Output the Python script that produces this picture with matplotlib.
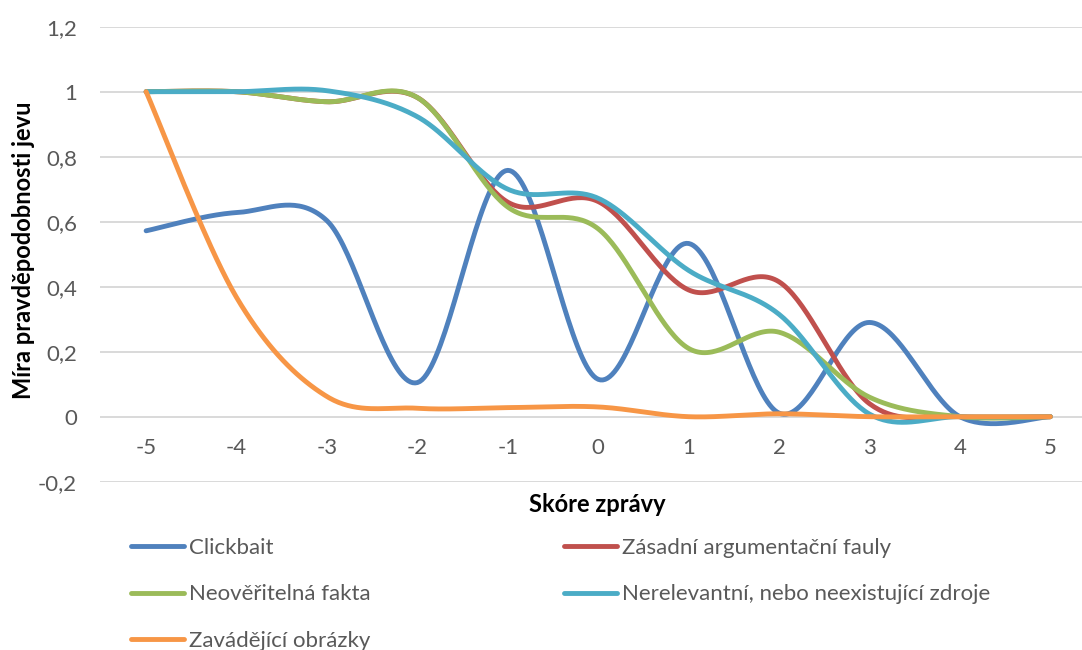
import numpy as np
import matplotlib
matplotlib.use("Agg")
import matplotlib.pyplot as plt

plt.rcParams['font.family'] = ['Lato', 'DejaVu Sans']

# ---------------- data ----------------
scores = [-5, -4, -3, -2, -1, 0, 1, 2, 3, 4, 5]
clickbait = [0.572, 0.628, 0.603, 0.105, 0.758, 0.115, 0.533, 0.011, 0.290, 0.0, 0.0]
fauly = [1.0, 1.0, 0.969, 0.982, 0.66, 0.662, 0.39, 0.415, 0.04, 0.0, 0.0]
fakta = [1.0, 1.0, 0.969, 0.982, 0.645, 0.578, 0.21, 0.26, 0.06, 0.0, 0.0]
zdroje = [1.0, 1.0, 1.003, 0.923, 0.70, 0.672, 0.45, 0.315, 0.008, 0.0, 0.0]
obrazky = [1.0, 0.367, 0.062, 0.026, 0.028, 0.030, 0.0, 0.009, 0.0, 0.0, 0.0]

series_names = ["Clickbait", "Zásadní argumentační fauly", "Neověřitelná fakta",
                "Nerelevantní, nebo neexistující zdroje", "Zavádějící obrázky"]
colors = ["#4F81BD", "#C0504D", "#9BBB59", "#4BACC6", "#F79646"]

yticks = [-0.2, 0, 0.2, 0.4, 0.6, 0.8, 1.0, 1.2]
ytick_labels = ["-0,2", "0", "0,2", "0,4", "0,6", "0,8", "1", "1,2"]
xtick_labels = ["-5", "-4", "-3", "-2", "-1", "0", "1", "2", "3", "4", "5"]
x_title = "Skóre zprávy"
y_title = "Míra pravděpodobnosti jevu"


def excel_smooth(x, y, n=40):
    """Excel-style smoothed line (cubic Bezier, 1/6 tension)."""
    x = np.asarray(x, float)
    y = np.asarray(y, float)
    P = np.column_stack([x, y])
    m = len(P)
    out = []
    t = np.linspace(0, 1, n)[:, None]
    for i in range(m - 1):
        p0 = P[i - 1] if i > 0 else P[i]
        p1 = P[i]
        p2 = P[i + 1]
        p3 = P[i + 2] if i + 2 < m else P[i + 1]
        c1 = p1 + (p2 - p0) / 6.0
        c2 = p2 - (p3 - p1) / 6.0
        seg = ((1 - t) ** 3) * p1 + 3 * ((1 - t) ** 2) * t * c1 + 3 * (1 - t) * t ** 2 * c2 + t ** 3 * p2
        out.append(seg if i == 0 else seg[1:])
    out = np.vstack(out)
    return out[:, 0], out[:, 1]


W, H = 1082, 650
fig = plt.figure(figsize=(W / 100, H / 100), dpi=100)
ax = fig.add_axes([100 / W, 1 - 481.7 / H, (W - 100) / W, (481.7 - 26.7) / H])

text_color = "#595959"
grid_color = "#D9D9D9"
fs = 16

all_series = [clickbait, fauly, fakta, zdroje, obrazky]
handles = []
for vals, name, col in zip(all_series, series_names, colors):
    sx, sy = excel_smooth(scores, vals)
    ln, = ax.plot(sx, sy, color=col, lw=3.5, solid_capstyle='round',
                  solid_joinstyle='round', label=name)
    handles.append(ln)

ax.set_xlim(-5.51, 5.35)
ax.set_ylim(-0.2, 1.2)
ax.set_yticks(yticks)
ax.set_yticklabels(ytick_labels)
ax.set_xticks(scores)
ax.set_xticklabels(xtick_labels)
ax.yaxis.grid(True, color=grid_color, lw=1.4)
ax.set_axisbelow(True)
for s in ['top', 'right', 'left']:
    ax.spines[s].set_visible(False)
ax.spines['bottom'].set_position(('data', 0))
ax.spines['bottom'].set_visible(False)
ax.tick_params(axis='x', length=0, pad=15, labelsize=fs, labelcolor=text_color)
ax.tick_params(axis='y', length=0, pad=16.5, labelsize=fs, labelcolor=text_color)

fig.text(597 / W, 1 - 505 / H, x_title, ha='center', va='center', fontsize=17,
         fontweight='bold', color='black')
fig.text(24 / W, 1 - 250 / H, y_title, ha='center', va='center', rotation=90,
         fontsize=17, fontweight='bold', color='black')

leg_kw = dict(loc='upper left', frameon=False, fontsize=fs, handlelength=2.4,
              handletextpad=0.2, labelspacing=1.19, borderaxespad=0, borderpad=0)
leg1 = fig.legend([handles[i] for i in (0, 2, 4)], [series_names[i] for i in (0, 2, 4)],
                  bbox_to_anchor=(131 / W, 1 - 538 / H), **leg_kw)
leg2 = fig.legend([handles[i] for i in (1, 3)], [series_names[i] for i in (1, 3)],
                  bbox_to_anchor=(564 / W, 1 - 538 / H), **leg_kw)
for lg in (leg1, leg2):
    for txt in lg.get_texts():
        txt.set_color(text_color)

fig.savefig("out.png", dpi=100)
